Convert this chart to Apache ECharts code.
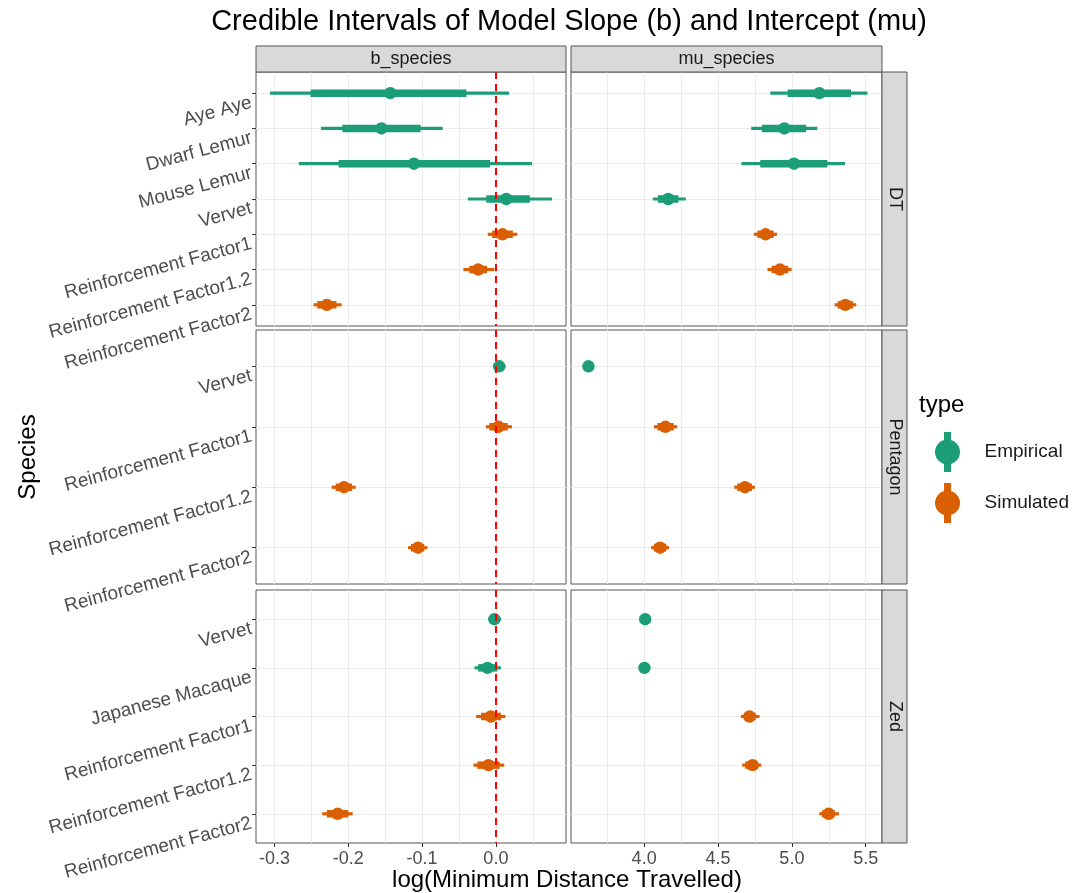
<!DOCTYPE html>
<html>
<head>
<meta charset="utf-8">
<script src="https://cdn.jsdelivr.net/npm/echarts@6.0.0/dist/echarts.min.js"></script>
<style>
html,body{margin:0;padding:0;background:#ffffff;}
#chart{width:1085px;height:893px;}
</style>
</head>
<body>
<div id="chart"></div>
<script>
// ---------------- DATA ----------------
const chartTitle = 'Credible Intervals of Model Slope (b) and Intercept (mu)';
const xTitle = 'log(Minimum Distance Travelled)';
const yTitle = 'Species';
const legendTitle = 'type';
const columnFacets = ['b_species', 'mu_species'];
const rowFacets = ['DT', 'Pentagon', 'Zed'];
const typeNames = ['Empirical', 'Simulated'];

const speciesDT = ['Aye Aye', 'Dwarf Lemur', 'Mouse Lemur', 'Vervet', 'Reinforcement Factor1', 'Reinforcement Factor1.2', 'Reinforcement Factor2'];
const typeDT = ['Empirical', 'Empirical', 'Empirical', 'Empirical', 'Simulated', 'Simulated', 'Simulated'];
const speciesPentagon = ['Vervet', 'Reinforcement Factor1', 'Reinforcement Factor1.2', 'Reinforcement Factor2'];
const typePentagon = ['Empirical', 'Simulated', 'Simulated', 'Simulated'];
const speciesZed = ['Vervet', 'Japanese Macaque', 'Reinforcement Factor1', 'Reinforcement Factor1.2', 'Reinforcement Factor2'];
const typeZed = ['Empirical', 'Empirical', 'Simulated', 'Simulated', 'Simulated'];

// each entry: [outer lower, inner lower, point, inner upper, outer upper]
const bDT = [
  [-0.306, -0.251, -0.143, -0.040, 0.018],
  [-0.237, -0.208, -0.155, -0.102, -0.072],
  [-0.267, -0.213, -0.111, -0.008, 0.049],
  [-0.038, -0.013, 0.014, 0.046, 0.076],
  [-0.011, -0.005, 0.009, 0.023, 0.029],
  [-0.044, -0.036, -0.024, -0.012, -0.002],
  [-0.247, -0.242, -0.229, -0.216, -0.209]
];
const muDT = [
  [4.854, 4.971, 5.186, 5.400, 5.511],
  [4.725, 4.797, 4.949, 5.096, 5.172],
  [4.659, 4.786, 5.014, 5.240, 5.360],
  [4.059, 4.093, 4.163, 4.232, 4.282],
  [4.743, 4.767, 4.822, 4.877, 4.899],
  [4.835, 4.863, 4.919, 4.975, 4.998],
  [5.289, 5.310, 5.362, 5.414, 5.436]
];
const bPentagon = [
  [-0.004, -0.001, 0.0045, 0.010, 0.013],
  [-0.0136, -0.009, 0.0035, 0.016, 0.0217],
  [-0.2225, -0.217, -0.2058, -0.195, -0.190],
  [-0.119, -0.115, -0.1054, -0.097, -0.0928]
];
const muPentagon = [
  [3.623, 3.623, 3.623, 3.623, 3.623],
  [4.066, 4.090, 4.144, 4.200, 4.224],
  [4.610, 4.630, 4.682, 4.730, 4.750],
  [4.047, 4.066, 4.108, 4.150, 4.169]
];
const bZed = [
  [-0.010, -0.007, -0.002, 0.004, 0.007],
  [-0.029, -0.024, -0.0114, 0.002, 0.0068],
  [-0.0267, -0.020, -0.0068, 0.007, 0.013],
  [-0.0304, -0.025, -0.010, 0.005, 0.0113],
  [-0.2353, -0.229, -0.2144, -0.200, -0.194]
];
const muZed = [
  [4.007, 4.007, 4.007, 4.007, 4.007],
  [4.002, 4.002, 4.002, 4.002, 4.002],
  [4.655, 4.675, 4.713, 4.755, 4.781],
  [4.664, 4.685, 4.734, 4.770, 4.793],
  [5.186, 5.205, 5.249, 5.290, 5.319]
];

const bRange = [-0.325, 0.095];
const muRange = [3.505, 5.61];
const bTicks = [-0.3, -0.2, -0.1, 0.0];
const bMinorGrid = [-0.25, -0.15, -0.05, 0.05];
const muTicks = [4.0, 4.5, 5.0, 5.5];
const muMinorGrid = [3.75, 4.25, 4.75, 5.25];
const refLineX = 0;

// ---------------- STYLE / LAYOUT ----------------
const FONT = "'Liberation Sans', Arial, Helvetica, sans-serif";
const typeColors = {Empirical: '#1B9E77', Simulated: '#D95F02'};
const colLeft = [256, 571];
const colWidth = [310, 311];
const rowTop = [72, 330, 590];
const rowHeight = [254, 254, 253];
const gridColor = '#EBEBEB';
const borderColor = '#555555';
const tickTextColor = '#4D4D4D';

const rowsDef = [
  {species: speciesDT, types: typeDT, b: bDT, mu: muDT},
  {species: speciesPentagon, types: typePentagon, b: bPentagon, mu: muPentagon},
  {species: speciesZed, types: typeZed, b: bZed, mu: muZed}
];
const colsDef = [
  {key: 'b', range: bRange, ticks: bTicks, minor: bMinorGrid},
  {key: 'mu', range: muRange, ticks: muTicks, minor: muMinorGrid}
];

function renderInterval(params, api) {
  const y = api.value(0);
  const o1 = api.coord([api.value(1), y]);
  const i1 = api.coord([api.value(2), y]);
  const pt = api.coord([api.value(3), y]);
  const i2 = api.coord([api.value(4), y]);
  const o2 = api.coord([api.value(5), y]);
  const color = api.visual('color');
  return {
    type: 'group',
    children: [
      {type: 'line', shape: {x1: o1[0], y1: o1[1], x2: o2[0], y2: o2[1]}, style: {stroke: color, lineWidth: 3.2, lineCap: 'butt'}},
      {type: 'line', shape: {x1: i1[0], y1: i1[1], x2: i2[0], y2: i2[1]}, style: {stroke: color, lineWidth: 7.5, lineCap: 'butt'}},
      {type: 'circle', shape: {cx: pt[0], cy: pt[1], r: 6.2}, style: {fill: color}}
    ]
  };
}

const grids = [], xAxes = [], yAxes = [], series = [];
rowsDef.forEach((rd, r) => {
  colsDef.forEach((cd, c) => {
    const g = r * 2 + c;
    const n = rd.species.length;
    const idx = rd.species.map((s, i) => i);
    grids.push({
      left: colLeft[c], top: rowTop[r], width: colWidth[c], height: rowHeight[r],
      show: true, borderColor: borderColor, borderWidth: 1, backgroundColor: '#ffffff',
      containLabel: false, outerBoundsMode: 'none'
    });
    const gridVals = cd.ticks.concat(cd.minor).sort((a, b) => a - b);
    xAxes.push({
      gridIndex: g, type: 'value', min: cd.range[0], max: cd.range[1], position: 'bottom',
      axisLine: {show: false, onZero: false},
      axisTick: {show: false, customValues: gridVals},
      axisLabel: {show: r === 2, customValues: cd.ticks, formatter: v => Number(v).toFixed(1),
        fontSize: 18, color: tickTextColor, fontFamily: FONT, margin: 7},
      splitLine: {show: true, lineStyle: {color: gridColor, width: 1}},
      minorSplitLine: {show: false}
    });
    yAxes.push({
      gridIndex: g, type: 'value', min: -0.6, max: n - 0.4, inverse: true, position: 'left',
      axisLine: {show: false, onZero: false},
      axisTick: {show: c === 0, customValues: idx, length: 4, lineStyle: {color: '#333333', width: 1}},
      axisLabel: {show: c === 0, customValues: idx, formatter: v => rd.species[Math.round(v)],
        rotate: 15, fontSize: 19, color: tickTextColor, fontFamily: FONT, margin: 7, verticalAlign: 'top'},
      splitLine: {show: true, lineStyle: {color: gridColor, width: 1}}
    });
    const vals = rd[cd.key];
    typeNames.forEach(t => {
      const data = [];
      vals.forEach((v, i) => { if (rd.types[i] === t) data.push([i].concat(v)); });
      if (!data.length) return;
      series.push({
        type: 'custom', name: t, xAxisIndex: g, yAxisIndex: g,
        itemStyle: {color: typeColors[t]},
        dimensions: ['y', 'lo95', 'lo66', 'point', 'hi66', 'hi95'],
        encode: {x: [1, 2, 3, 4, 5], y: 0},
        renderItem: renderInterval,
        data: data,
        z: 2
      });
    });
    if (c === 0) {
      series.push({
        type: 'line', xAxisIndex: g, yAxisIndex: g, data: [], z: 5, silent: true,
        markLine: {
          silent: true, symbol: ['none', 'none'], label: {show: false},
          lineStyle: {color: '#FF0000', type: [7, 5], width: 2},
          emphasis: {disabled: true},
          data: [{xAxis: refLineX}]
        }
      });
    }
  });
});
// bottom-row tick marks (major only)
colsDef.forEach((cd, c) => {
  xAxes.push({
    gridIndex: 4 + c, type: 'value', min: cd.range[0], max: cd.range[1], position: 'bottom',
    axisLine: {show: false, onZero: false},
    axisTick: {show: true, customValues: cd.ticks, length: 4, lineStyle: {color: '#333333', width: 1}},
    axisLabel: {show: false},
    splitLine: {show: false}
  });
});

// strips and texts
const graphics = [];
columnFacets.forEach((t, c) => {
  graphics.push({type: 'rect', shape: {x: colLeft[c], y: 46, width: colWidth[c], height: 26},
    style: {fill: '#D9D9D9', stroke: borderColor, lineWidth: 1}, z: 10});
  graphics.push({type: 'text', x: colLeft[c] + colWidth[c] / 2, y: 59,
    style: {text: t, fontSize: 18, fontFamily: FONT, fill: '#1A1A1A', align: 'center', verticalAlign: 'middle'}, z: 11});
});
rowFacets.forEach((t, r) => {
  graphics.push({type: 'rect', shape: {x: 882, y: rowTop[r], width: 25, height: rowHeight[r]},
    style: {fill: '#D9D9D9', stroke: borderColor, lineWidth: 1}, z: 10});
  graphics.push({type: 'text', x: 895, y: rowTop[r] + rowHeight[r] / 2, rotation: -Math.PI / 2,
    style: {text: t, fontSize: 18, fontFamily: FONT, fill: '#1A1A1A', align: 'center', verticalAlign: 'middle'}, z: 11});
});
graphics.push({type: 'text', x: 569, y: 22,
  style: {text: chartTitle, fontSize: 29, fontFamily: FONT, fill: '#000000', align: 'center', verticalAlign: 'middle'}, z: 11});
graphics.push({type: 'text', x: 567, y: 880,
  style: {text: xTitle, fontSize: 24, fontFamily: FONT, fill: '#000000', align: 'center', verticalAlign: 'middle'}, z: 11});
graphics.push({type: 'text', x: 28, y: 457, rotation: Math.PI / 2,
  style: {text: yTitle, fontSize: 24, fontFamily: FONT, fill: '#000000', align: 'center', verticalAlign: 'middle'}, z: 11});
graphics.push({type: 'text', x: 919, y: 405,
  style: {text: legendTitle, fontSize: 24, fontFamily: FONT, fill: '#000000', align: 'left', verticalAlign: 'middle'}, z: 11});

const chart = echarts.init(document.getElementById('chart'), null, {renderer: 'canvas'});
chart.setOption({
  animation: false,
  backgroundColor: '#ffffff',
  textStyle: {fontFamily: FONT},
  grid: grids,
  xAxis: xAxes,
  yAxis: yAxes,
  series: series,
  legend: {
    data: typeNames, orient: 'vertical', left: 935, top: 432, padding: 0,
    itemWidth: 26, itemHeight: 40, itemGap: 11, selectedMode: false,
    icon: 'path://M9.5,0 H16.5 V40 H9.5 Z M0.5,20 A12.5,12.5 0 1,1 25.5,20 A12.5,12.5 0 1,1 0.5,20 Z',
    textStyle: {fontSize: 19, color: '#1A1A1A', fontFamily: FONT, padding: [0, 0, 0, 19]}
  },
  graphic: graphics
});
</script>
</body>
</html>
